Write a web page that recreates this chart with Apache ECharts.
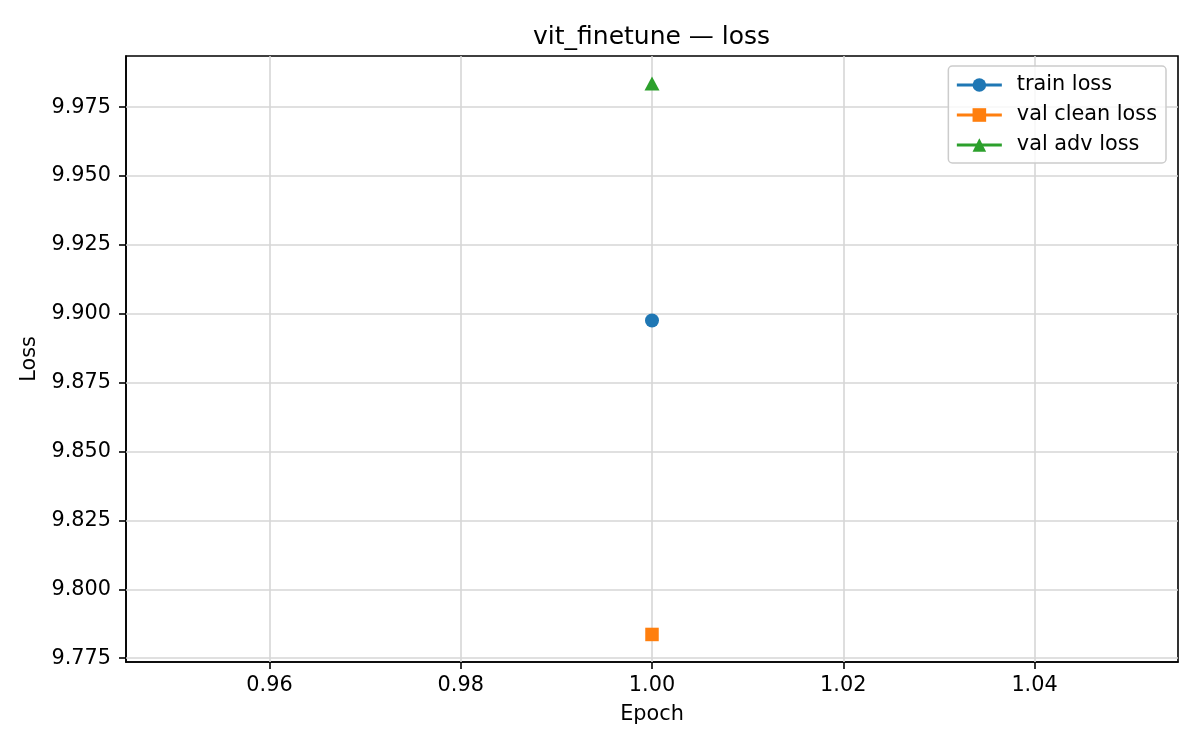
<!DOCTYPE html>
<html>
<head>
<meta charset="utf-8">
<title>vit_finetune — loss</title>
<script src="https://cdn.jsdelivr.net/npm/echarts@6/dist/echarts.min.js"></script>
<style>
  html, body { margin: 0; padding: 0; background: #fff; }
  #main { width: 1200px; height: 750px; }
</style>
</head>
<body>
<div id="main"></div>
<script>
var epochs = [1];
var trainLoss = [9.8976]; //train loss
var valCleanLoss = [9.7836]; //val clean loss
var valAdvLoss = [9.9836]; //val adv loss
var xTicks = [0.96, 0.98, 1.0, 1.02, 1.04];
var yTicks = [9.775, 9.8, 9.825, 9.85, 9.875, 9.9, 9.925, 9.95, 9.975];
var seriesNames = ["train loss", "val clean loss", "val adv loss"];

var xMin = 0.945,
  xMax = 1.055,
  yMin = 9.7736,
  yMax = 9.9936;
var font = "DejaVu Sans";

function pairs(xs, ys) {
  var out = [];
  for (var i = 0; i < xs.length; i++) {
    out.push([xs[i], ys[i]]);
  }
  return out;
}

// grid lines drawn as markLines at the tick values
var gridLines = [];
for (var i = 0; i < xTicks.length; i++) {
  gridLines.push([{ coord: [xTicks[i], yMin] }, { coord: [xTicks[i], yMax] }]);
}
for (var j = 0; j < yTicks.length; j++) {
  gridLines.push([{ coord: [xMin, yTicks[j]] }, { coord: [xMax, yTicks[j]] }]);
}

var myChart = echarts.init(document.getElementById("main"));
var option = {
  animation: false,
  backgroundColor: "#fff",
  title: {
    text: "vit_finetune — loss",
    left: 533,
    top: 25,
    padding: 0,
    textStyle: {
      fontFamily: font,
      fontSize: 25,
      fontWeight: "normal",
      color: "#000"
    }
  },
  legend: {
    data: seriesNames,
    orient: "vertical",
    right: 34,
    top: 66,
    padding: [8, 9, 7, 7],
    itemWidth: 45,
    itemHeight: 17,
    itemGap: 8,
    backgroundColor: "rgba(255,255,255,0.8)",
    borderColor: "#cccccc",
    borderWidth: 1.5,
    borderRadius: 4,
    lineStyle: { width: 3 },
    textStyle: {
      fontFamily: font,
      fontSize: 20.8,
      lineHeight: 22,
      color: "#000",
      padding: [0, 0, 0, 10]
    }
  },
  grid: {
    left: 126,
    right: 22,
    top: 56,
    bottom: 88,
    show: true,
    borderColor: "#000",
    borderWidth: 1.6,
    backgroundColor: "transparent"
  },
  xAxis: {
    type: "value",
    min: xMin,
    max: xMax,
    name: "Epoch",
    nameLocation: "middle",
    nameGap: 42,
    nameTextStyle: { fontFamily: font, fontSize: 20.8, color: "#000" },
    axisLine: { show: true, onZero: false, lineStyle: { color: "#000", width: 1.6 } },
    axisTick: { show: true, length: 7, customValues: xTicks, lineStyle: { color: "#000", width: 1.6 } },
    axisLabel: {
      customValues: xTicks,
      margin: 13,
      fontFamily: font,
      fontSize: 20.8,
      color: "#000",
      formatter: function(v) {
        return v.toFixed(2);
      }
    },
    splitLine: { show: false }
  },
  yAxis: {
    type: "value",
    min: yMin,
    max: yMax,
    name: "Loss",
    nameLocation: "middle",
    nameGap: 82,
    nameTextStyle: { fontFamily: font, fontSize: 20.8, color: "#000" },
    axisLine: { show: true, onZero: false, lineStyle: { color: "#000", width: 1.6 } },
    axisTick: { show: true, length: 7, customValues: yTicks, lineStyle: { color: "#000", width: 1.6 } },
    axisLabel: {
      customValues: yTicks,
      margin: 15,
      fontFamily: font,
      fontSize: 20.8,
      color: "#000",
      formatter: function(v) {
        return v.toFixed(3);
      }
    },
    splitLine: { show: false }
  },
  series: [
    {
      name: "grid",
      type: "line",
      data: [],
      silent: true,
      z: 1,
      markLine: {
        silent: true,
        z: 1,
        symbol: "none",
        animation: false,
        label: { show: false },
        emphasis: { disabled: true },
        lineStyle: { color: "#d6d6d6", width: 1.6, type: "solid" },
        data: gridLines
      }
    },
    {
      name: seriesNames[0],
      type: "line",
      z: 10,
      data: pairs(epochs, trainLoss),
      symbol: "circle",
      symbolSize: 14,
      showSymbol: true,
      color: "#1f77b4",
      lineStyle: { width: 3 }
    },
    {
      name: seriesNames[1],
      type: "line",
      z: 10,
      data: pairs(epochs, valCleanLoss),
      symbol: "rect",
      symbolSize: 13.5,
      showSymbol: true,
      color: "#ff7f0e",
      lineStyle: { width: 3 }
    },
    {
      name: seriesNames[2],
      type: "line",
      z: 10,
      data: pairs(epochs, valAdvLoss),
      symbol: "triangle",
      symbolSize: [15, 14],
      showSymbol: true,
      color: "#2ca02c",
      lineStyle: { width: 3 }
    }
  ]
};
myChart.setOption(option);
</script>
</body>
</html>
